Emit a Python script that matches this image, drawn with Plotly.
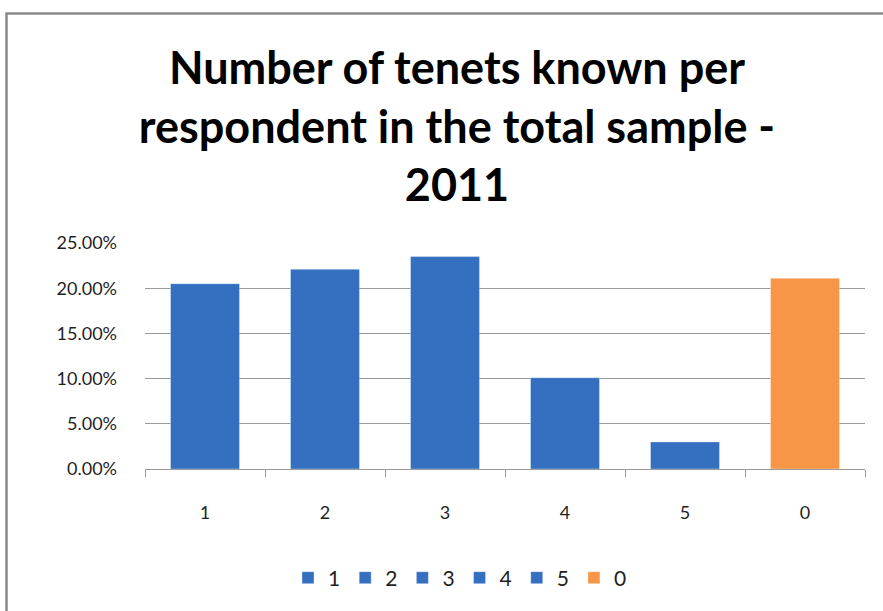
import plotly.graph_objects as go

# Share of respondents by number of tenets known (2011)
categories = ["1", "2", "3", "4", "5", "0"]
shares = [0.205, 0.221, 0.235, 0.101, 0.030, 0.211]
bar_colors = ["#3570C0", "#3570C0", "#3570C0", "#3570C0", "#3570C0", "#F79646"]
y_ticks = [0.0, 0.05, 0.10, 0.15, 0.20, 0.25]
y_tick_text = ["0.00%", "5.00%", "10.00%", "15.00%", "20.00%", "25.00%"]

W, H = 883, 611
ML, MR, MT, MB = 145, 18, 243, 142
PW, PH = W - ML - MR, H - MT - MB

FONT = "Lato"
TEXT = "#1F1F1F"
GRID = "#9A9A9A"

fig = go.Figure()
for cat, val, col in zip(categories, shares, bar_colors):
    fig.add_trace(go.Bar(
        x=[cat], y=[val], name=cat, width=0.575,
        marker=dict(color=col, line=dict(color="rgba(255,255,255,0.35)", width=1)),
        hoverinfo="x+y",
    ))

# outer chart frame (gray border around the chart area)
def px_to_paper_x(px):
    return (px - ML) / PW

def px_to_paper_y(py):
    return (H - MB - py) / PH

fig.add_shape(type="rect", xref="paper", yref="paper",
              x0=px_to_paper_x(6.5), x1=px_to_paper_x(W + 20),
              y0=px_to_paper_y(H + 20), y1=px_to_paper_y(13.5),
              line=dict(color="#8A8A8A", width=2.5), fillcolor="rgba(0,0,0,0)",
              layer="below")

fig.update_layout(
    width=W, height=H,
    margin=dict(l=ML, r=MR, t=MT, b=MB, autoexpand=False),
    paper_bgcolor="white", plot_bgcolor="white",
    barmode="overlay",
    showlegend=True,
    title=dict(
        text="Number of tenets known per<br>respondent in the total sample -<br>2011",
        font=dict(family=FONT, size=45, color="#000000", weight="bold"),
        x=457 / W, xanchor="center", xref="container",
        y=1 - 84 / H, yanchor="top", yref="container",
    ),
    font=dict(family=FONT, size=18, color=TEXT),
    xaxis=dict(
        type="category", categoryorder="array", categoryarray=categories,
        range=[-0.5, 5.5],
        showgrid=False, showline=True, linecolor=GRID, linewidth=1.3,
        ticks="outside", tickson="boundaries", ticklen=7, tickcolor=GRID,
        tickwidth=1.3, ticklabelstandoff=27,
        tickfont=dict(family=FONT, size=18, color=TEXT),
        zeroline=False, fixedrange=True,
    ),
    yaxis=dict(
        range=[0, 0.25], tickmode="array", tickvals=y_ticks, ticktext=y_tick_text,
        showgrid=True, gridcolor=GRID, gridwidth=1.3,
        showline=False, zeroline=False, ticks="",
        ticklabelstandoff=27,
        tickfont=dict(family=FONT, size=18, color=TEXT),
        fixedrange=True,
    ),
    legend=dict(
        orientation="h", xanchor="center", x=px_to_paper_x(460),
        yanchor="middle", y=px_to_paper_y(578),
        font=dict(family=FONT, size=21, color=TEXT),
        itemwidth=30, tracegroupgap=0, bgcolor="rgba(0,0,0,0)",
    ),
)

fig.write_html("out.html")
